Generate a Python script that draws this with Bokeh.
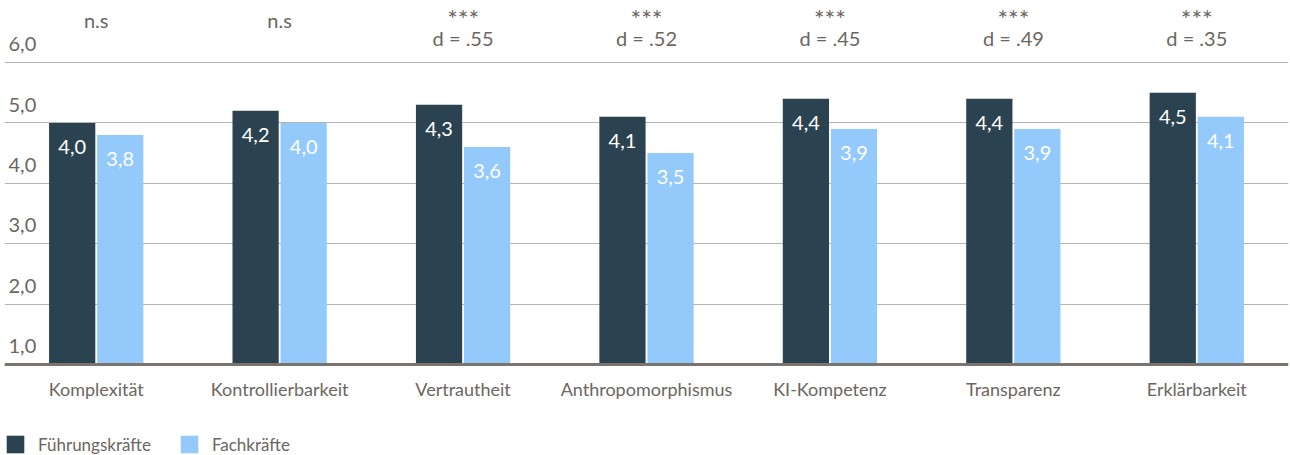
from bokeh.plotting import figure
from bokeh.models import (FactorRange, Range1d, ColumnDataSource, FixedTicker,
                          Legend, LegendItem, Span)
from bokeh.transform import dodge
from bokeh.core.properties import value
from bokeh.embed import file_html
from bokeh.resources import INLINE

# --- data -------------------------------------------------------------------
categories = ["Komplexität", "Kontrollierbarkeit", "Vertrautheit",
              "Anthropomorphismus", "KI-Kompetenz", "Transparenz", "Erklärbarkeit"]
fuehrungskraefte = [4.0, 4.2, 4.3, 4.1, 4.4, 4.4, 4.5]
fachkraefte = [3.8, 4.0, 3.6, 3.5, 3.9, 3.9, 4.1]
significance = ["n.s", "n.s", "***", "***", "***", "***", "***"]
effect_sizes = ["", "", "d = .55", "d = .52", "d = .45", "d = .49", "d = .35"]
series_names = ["Führungskräfte", "Fachkräfte"]
y_ticks = [1, 2, 3, 4, 5, 6]
y_tick_labels = ["1,0", "2,0", "3,0", "4,0", "5,0", "6,0"]
grid_values = [1, 2, 3, 4, 5]

# --- styling ----------------------------------------------------------------
FONT = "Lato"
DARK = "#2b4251"
LIGHT = "#94c9fb"
TEXT = "#6c6661"
GRID = "#b4b4b4"
BASE = "#7b746e"
PX_PER_UNIT = 60.4
HEIGHT = 455
BASELINE_PX = 364          # distance of the zero line from the top edge
OFF = 0.131
BAR_W = 0.252


def de(v):
    return f"{v:.1f}".replace(".", ",")


# the frame spans the whole canvas; the category labels and the legend sit
# in the strip below the zero line
p = figure(x_range=FactorRange(*categories),
           y_range=Range1d(-(HEIGHT - BASELINE_PX) / PX_PER_UNIT,
                           BASELINE_PX / PX_PER_UNIT),
           width=1290, height=HEIGHT,
           min_border_left=4, min_border_right=2, min_border_top=0,
           min_border_bottom=0, x_axis_location=None, y_axis_location=None,
           output_backend="svg", toolbar_location=None)
p.outline_line_color = None
p.xgrid.grid_line_color = None
p.ygrid.ticker = FixedTicker(ticks=grid_values)
p.ygrid.grid_line_color = GRID
p.ygrid.grid_line_width = 1.2
p.background_fill_color = "white"
p.border_fill_color = "white"

src = ColumnDataSource(dict(
    cat=categories,
    zero=[0] * len(categories),
    f=fuehrungskraefte,
    k=fachkraefte,
    f_lbl=[de(v) for v in fuehrungskraefte],
    k_lbl=[de(v) for v in fachkraefte],
))

r1 = p.vbar(x=dodge("cat", -OFF, range=p.x_range), top="f", width=BAR_W,
            source=src, fill_color=DARK, line_color=None)
r2 = p.vbar(x=dodge("cat", OFF, range=p.x_range), top="k", width=BAR_W,
            source=src, fill_color=LIGHT, line_color=None)

# heavy zero line
p.add_layout(Span(location=0, dimension="width", line_color=BASE,
                  line_width=3))

value_style = dict(text_align="center", text_baseline="middle", y_offset=24,
                   text_color="white", text_font=value(FONT),
                   text_font_size="20px")
p.text(x=dodge("cat", -OFF, range=p.x_range), y="f", text="f_lbl",
       source=src, **value_style)
p.text(x=dodge("cat", OFF, range=p.x_range), y="k", text="k_lbl",
       source=src, **value_style)

# category labels under the zero line
p.text(x="cat", y="zero", text="cat", source=src, y_offset=24,
       text_align="center", text_baseline="middle", text_color=TEXT,
       text_font=value(FONT), text_font_size="18px")

# y tick labels drawn inside the plot area, hanging below their value line
tick_src = ColumnDataSource(dict(cat=[categories[0]] * len(y_ticks),
                                 y=y_ticks, t=y_tick_labels))
p.text(x=dodge("cat", -0.5, range=p.x_range), y="y", text="t", source=tick_src,
       x_offset=4, y_offset=42, text_align="left", text_baseline="middle",
       text_color=TEXT, text_font=value(FONT), text_font_size="20px")

# significance markers above each group
top = y_ticks[-1]
ns_idx = [i for i, e in enumerate(effect_sizes) if not e]
st_idx = [i for i, e in enumerate(effect_sizes) if e]
ns_src = ColumnDataSource(dict(cat=[categories[i] for i in ns_idx],
                               y=[top] * len(ns_idx),
                               t=[significance[i] for i in ns_idx]))
st_src = ColumnDataSource(dict(cat=[categories[i] for i in st_idx],
                               y=[top] * len(st_idx),
                               s=[significance[i] for i in st_idx],
                               d=[effect_sizes[i] for i in st_idx]))
sig_style = dict(text_align="center", text_baseline="middle",
                 text_color=TEXT, text_font=value(FONT))
p.text(x="cat", y="y", text="t", source=ns_src, y_offset=18,
       text_font_size="20px", **sig_style)
p.text(x="cat", y="y", text="s", source=st_src, y_offset=17,
       text_font_size="25px", **sig_style)
p.text(x="cat", y="y", text="d", source=st_src, y_offset=36,
       text_font_size="20px", **sig_style)

legend = Legend(items=[LegendItem(label=series_names[0], renderers=[r1]),
                       LegendItem(label=series_names[1], renderers=[r2])],
                orientation="horizontal", location="bottom_left",
                glyph_width=22, glyph_height=22, label_height=22,
                label_standoff=12, spacing=27, padding=0, margin=0,
                border_line_color=None, background_fill_alpha=0,
                label_text_font=FONT, label_text_font_size="17px",
                label_text_color=TEXT)
p.add_layout(legend)

open("out.html", "w").write(file_html(p, INLINE))
